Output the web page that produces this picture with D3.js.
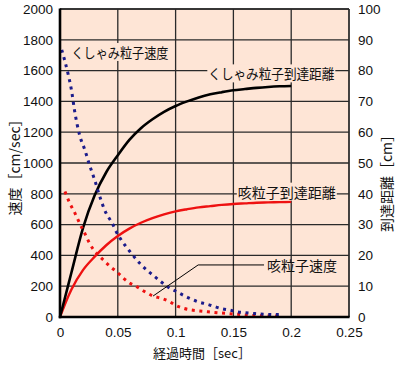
<!DOCTYPE html>
<html><head><meta charset="utf-8">
<script src="https://cdn.jsdelivr.net/npm/d3@7"></script>
<style>
body{margin:0;background:#fff;}
text{font-family:"Liberation Sans",Arial,sans-serif;}
.jp{font-family:"Noto Sans CJK JP","Noto Sans",sans-serif;}
</style></head>
<body><svg id="c" width="400" height="365"></svg>
<script>
// ---- data ----
const xTicks = [0, 0.05, 0.1, 0.15, 0.2, 0.25];
const xTickLabels = ["0", "0.05", "0.1", "0.15", "0.2", "0.25"];
const yLeftTicks = [0,200,400,600,800,1000,1200,1400,1600,1800,2000];
const yRightTicks = [0,10,20,30,40,50,60,70,80,90,100];

// sneeze particle velocity [cm/sec] (t, v)
const sneezeVelocity = [[0.0015,1735],[0.004,1668],[0.007,1578],[0.01,1470],[0.0125,1345],[0.017,1180],[0.0215,1085],[0.0255,987],[0.03,890],[0.034,792],[0.0385,697],[0.046,597],[0.0486,554],[0.053,500],[0.0606,424],[0.069,349],[0.075,305],[0.082,262],[0.089,219],[0.095,187],[0.101,164],[0.108,136],[0.114,115],[0.12,97],[0.127,84],[0.134,67],[0.14,54],[0.147,45],[0.153,34],[0.16,28],[0.166,24],[0.173,19],[0.18,17],[0.186,16],[0.192,18]];
// cough particle velocity [cm/sec]
const coughVelocity = [[0.0043,815],[0.0072,760],[0.01,716],[0.013,673],[0.016,625],[0.019,578],[0.0205,558],[0.025,487],[0.029,437],[0.033,403],[0.039,359],[0.0435,327],[0.049,294],[0.055,251],[0.0606,219],[0.0663,197],[0.0735,164],[0.0805,136],[0.088,121],[0.095,99],[0.1,76],[0.107,56],[0.114,45],[0.121,39],[0.128,34],[0.136,28],[0.143,24],[0.15,19.5],[0.157,15],[0.164,11],[0.173,8.4],[0.182,6.5],[0.1875,6]];
// sneeze particle reach distance [cm]
const sneezeDistance = [[0,0],[0.005,7.3],[0.01,14.6],[0.02,29],[0.03,39.5],[0.04,47],[0.05,52.5],[0.06,57.5],[0.07,61.3],[0.08,64.2],[0.09,66.6],[0.1,68.5],[0.11,70],[0.12,71.3],[0.13,72.3],[0.14,73],[0.15,73.6],[0.16,74],[0.17,74.4],[0.18,74.7],[0.19,74.9],[0.2,75]];
// cough particle reach distance [cm]
const coughDistance = [[0,0],[0.005,4.8],[0.01,9],[0.02,15.3],[0.03,19.6],[0.04,23.3],[0.05,26.3],[0.06,28.7],[0.07,30.6],[0.08,32.1],[0.09,33.3],[0.1,34.3],[0.11,35],[0.12,35.6],[0.13,36],[0.14,36.4],[0.15,36.7],[0.16,36.9],[0.17,37.1],[0.18,37.2],[0.19,37.3],[0.2,37.4]];

const xTitle = "経過時間［sec］";
const yLeftTitle = "速度［cm/sec］";
const yRightTitle = "到達距離［cm］";

// ---- layout ----
const svg = d3.select("#c");
const L=60, R=349, T=9, B=317;
const x = d3.scaleLinear([0,0.25],[L,R]);
const yL = d3.scaleLinear([0,2000],[B,T]);
const yR = d3.scaleLinear([0,100],[B,T]);
const bg = "#fee5d6";

svg.append("rect").attr("x",L).attr("y",T).attr("width",R-L).attr("height",B-T).attr("fill",bg);

// grid
const g = svg.append("g").attr("stroke","#2a2a2a").attr("stroke-width",1.3);
g.selectAll("line.v").data(xTicks.slice(1)).join("line")
  .attr("x1",d=>x(d)).attr("x2",d=>x(d)).attr("y1",T).attr("y2",B);
g.selectAll("line.h").data(yLeftTicks.slice(1)).join("line")
  .attr("class","h").attr("x1",L).attr("x2",R).attr("y1",d=>yL(d)).attr("y2",d=>yL(d));

// axes (labels)
const axL = svg.append("g").attr("transform",`translate(${L},0)`)
  .call(d3.axisLeft(yL).tickValues(yLeftTicks).tickFormat(d3.format("d")).tickSize(0).tickPadding(7));
const axR = svg.append("g").attr("transform",`translate(${R},0)`)
  .call(d3.axisRight(yR).tickValues(yRightTicks).tickFormat(d3.format("d")).tickSize(0).tickPadding(9));
const axB = svg.append("g").attr("transform",`translate(0,${B})`)
  .call(d3.axisBottom(x).tickValues(xTicks).tickFormat((d,i)=>xTickLabels[i]).tickSize(0).tickPadding(10));
[axL,axR,axB].forEach(a=>{a.select(".domain").remove();
  a.selectAll("text").attr("font-size",13.5).attr("fill","#111").attr("font-family","'Liberation Sans',Arial,sans-serif");});

// lines
const line = d3.line().x(d=>x(d[0])).curve(d3.curveMonotoneX);
const plot = svg.append("g");
plot.append("path").datum(coughDistance).attr("fill","none").attr("stroke","#ee1111").attr("stroke-width",2.4)
  .attr("d",line.y(d=>yR(d[1])));
plot.append("path").datum(sneezeDistance).attr("fill","none").attr("stroke","#000").attr("stroke-width",2.6)
  .attr("d",line.y(d=>yR(d[1])));
plot.append("path").datum(coughVelocity).attr("fill","none").attr("stroke","#ee1111").attr("stroke-width",3)
  .attr("stroke-dasharray","3,4.6").attr("d",line.y(d=>yL(d[1])));
plot.append("path").datum(sneezeVelocity).attr("fill","none").attr("stroke","#1c1c8c").attr("stroke-width",3)
  .attr("stroke-dasharray","3,4.6").attr("d",line.y(d=>yL(d[1])));

// frame: thick left & bottom axis, thin top & right
svg.append("line").attr("x1",R).attr("x2",R).attr("y1",T).attr("y2",B).attr("stroke","#2a2a2a").attr("stroke-width",1.3);
svg.append("line").attr("x1",L).attr("x2",R).attr("y1",T).attr("y2",T).attr("stroke","#2a2a2a").attr("stroke-width",1.3);
svg.append("line").attr("x1",L).attr("x2",L).attr("y1",T-0.6).attr("y2",B+1.2).attr("stroke","#000").attr("stroke-width",2.6);
svg.append("line").attr("x1",L-1.2).attr("x2",R+0.6).attr("y1",B).attr("y2",B).attr("stroke","#000").attr("stroke-width",2.6);

// leader line for cough velocity
const leader = [[0.0805,136],[0.1195,338],[0.1765,338]];
svg.append("path").attr("fill","none").attr("stroke","#000").attr("stroke-width",1)
  .attr("d",d3.line().x(d=>x(d[0])).y(d=>yL(d[1]))(leader));

// annotation labels
function label(txt, tx, ty, anchor, len, box){
  const t = svg.append("text").attr("class","jp").attr("x",tx).attr("y",ty)
    .attr("text-anchor",anchor).attr("dominant-baseline","central")
    .attr("font-size",14).attr("fill","#111").text(txt);
  if(len) t.attr("textLength",len).attr("lengthAdjust","spacingAndGlyphs");
  if(box){
    const b = t.node().getBBox();
    svg.insert("rect", function(){return t.node();}).attr("x",b.x-1).attr("y",b.y+1).attr("width",b.width+2).attr("height",b.height-2).attr("fill",bg);
  }
}
label("くしゃみ粒子速度", x(0.0099), yL(1721), "start", 97, true);
label("くしゃみ粒子到達距離", x(0.2373), yR(79.1), "end", 126, true);
label("咳粒子到達距離", x(0.2386), yR(40.7), "end", null, true);
label("咳粒子速度", x(0.179), yL(338), "start", 70, false);

// axis titles
svg.append("text").attr("class","jp").attr("transform",`translate(14,164) rotate(-90)`)
  .attr("text-anchor","middle").attr("dominant-baseline","central").attr("font-size",14).attr("fill","#111").text(yLeftTitle);
svg.append("text").attr("class","jp").attr("transform",`translate(386,180) rotate(-90)`)
  .attr("text-anchor","middle").attr("dominant-baseline","central").attr("font-size",14).attr("fill","#111").text(yRightTitle);
svg.append("text").attr("class","jp").attr("x",202).attr("y",352)
  .attr("text-anchor","middle").attr("dominant-baseline","central").attr("font-size",13).attr("fill","#111").text(xTitle);
</script></body></html>
